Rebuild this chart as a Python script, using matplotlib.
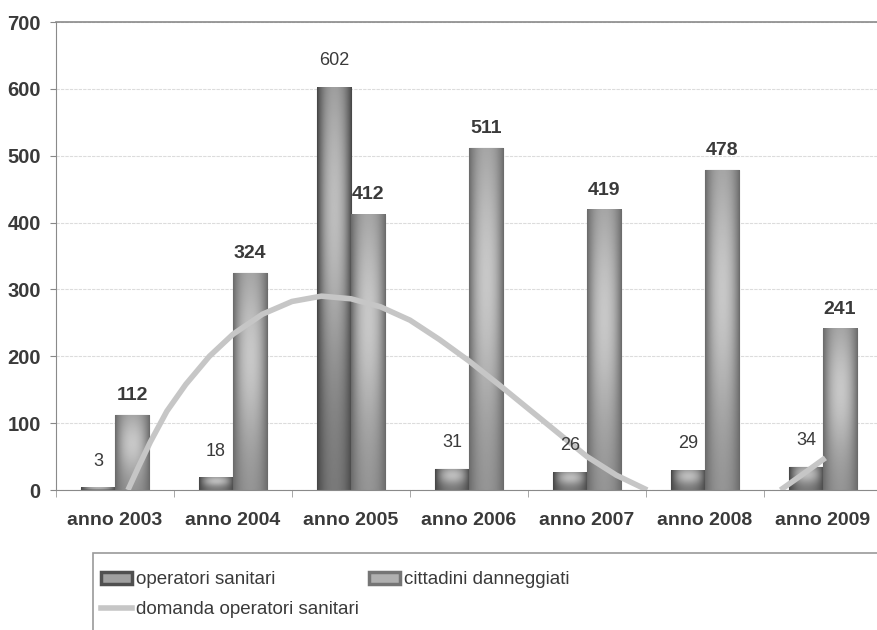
import numpy as np
import matplotlib
matplotlib.use("Agg")
import matplotlib.pyplot as plt
from matplotlib.patches import Rectangle
from matplotlib.lines import Line2D

# dati
anni = ["anno 2003", "anno 2004", "anno 2005", "anno 2006", "anno 2007", "anno 2008", "anno 2009"]
operatori = [3, 18, 602, 31, 26, 29, 34]
cittadini = [112, 324, 412, 511, 419, 478, 241]

# linea "domanda operatori sanitari" (due tratti)
dom_x1 = [0.11, 0.20, 0.30, 0.44, 0.60, 0.80, 1.00, 1.25, 1.50, 1.75, 2.00, 2.25, 2.50, 2.75, 3.00, 3.25, 3.50, 3.75, 4.00, 4.25, 4.51]
dom_y1 = [0, 35, 72, 118, 158, 200, 233, 263, 282, 290, 286, 274, 254, 225, 193, 158, 122, 86, 50, 22, 0]
dom_x2 = [5.64, 5.80, 6.02]
dom_y2 = [0, 20, 48]

testo = "#3a3a3a"
plt.rcParams["font.family"] = ["Liberation Sans", "DejaVu Sans"]

fig = plt.figure(figsize=(8.77, 6.30), dpi=100)
ax = fig.add_axes([56 / 877, 140 / 630, 826 / 877, 468 / 630])

x = np.arange(len(anni))
w = 0.29


def sfuma(bar, scuro, chiaro, vc):
    x0, y0 = bar.get_xy()
    bw, bh = bar.get_width(), bar.get_height()
    u = np.linspace(-1, 1, 40)
    v = np.linspace(0, 1, 120)
    U, V = np.meshgrid(u, v)
    oriz = 1 - np.abs(U) ** 2.2
    vert = np.exp(-((V - vc) / 0.4) ** 2)
    t = oriz * (0.4 + 0.6 * vert)
    img = scuro + (chiaro - scuro) * t
    ax.imshow(img, extent=[x0, x0 + bw, y0, y0 + bh], origin="lower", cmap="gray",
              vmin=0, vmax=1, aspect="auto", interpolation="bilinear",
              clip_path=bar, zorder=2)


b1 = ax.bar(x - w / 2, operatori, w, color="#555555", edgecolor="#4a4a4a", linewidth=0.8, zorder=2)
b2 = ax.bar(x + w / 2, cittadini, w, color="#777777", edgecolor="#666666", linewidth=0.8, zorder=2)
for b in b1:
    sfuma(b, 0.28, 0.74, 0.7)
for b in b2:
    sfuma(b, 0.42, 0.78, 0.62)

ax.plot(dom_x1, dom_y1, color="#c6c6c6", lw=4, solid_capstyle="butt", zorder=3)
ax.plot(dom_x2, dom_y2, color="#c6c6c6", lw=4, solid_capstyle="butt", zorder=3)

for xi, val in zip(x, operatori):
    ax.annotate(str(val), (xi - w / 2, val), xytext=(0, 16), textcoords="offset points",
                ha="center", va="baseline", fontsize=13, color=testo)
for xi, val in zip(x, cittadini):
    ax.annotate(str(val), (xi + w / 2, val), xytext=(0, 11), textcoords="offset points",
                ha="center", va="baseline", fontsize=14, fontweight="bold", color=testo)

ax.set_xlim(-0.5, 6.5)
ax.set_ylim(0, 700)
ax.set_yticks(range(0, 701, 100))
ax.set_xticks(x)
ax.set_xticklabels(anni, fontsize=14, fontweight="bold", color=testo)
ax.set_xticks(np.arange(-0.5, 7, 1), minor=True)
ax.tick_params(axis="x", which="major", length=0, pad=16)
ax.tick_params(axis="x", which="minor", length=5, color="#999999")
ax.tick_params(axis="y", length=4, color="#888888", pad=7, labelsize=14.5, labelcolor=testo)
for lab in ax.get_yticklabels():
    lab.set_fontweight("bold")

ax.yaxis.grid(True, color="#dcdcdc", lw=0.8, ls=(0, (3, 1)))
ax.set_axisbelow(True)
ax.spines["right"].set_visible(False)
ax.spines["top"].set_color("#8a8a8a")
ax.spines["left"].set_color("#8a8a8a")
ax.spines["bottom"].set_color("#8a8a8a")
ax.spines["top"].set_linewidth(1.2)

# legenda
fig.patches.append(Rectangle((93 / 877, -0.1), 1.0, 0.1 + 77 / 630, transform=fig.transFigure,
                             facecolor="white", edgecolor="#9a9a9a", lw=1.2, zorder=0))
h_op = Rectangle((0, 0), 1, 1, facecolor="#a0a0a0", edgecolor="#505050", lw=2.5)
h_ci = Rectangle((0, 0), 1, 1, facecolor="#b0b0b0", edgecolor="#757575", lw=2.5)
h_dom = Line2D([], [], color="#c6c6c6", lw=4)
fig.legend([h_op, h_dom, h_ci],
           ["operatori sanitari", "domanda operatori sanitari", "cittadini danneggiati"],
           ncol=2, loc="upper left", bbox_to_anchor=(92 / 877, 1 - 562 / 630),
           frameon=False, borderpad=0, handlelength=1.65, handleheight=0.65,
           handletextpad=0.22, columnspacing=0.5, labelspacing=0.7,
           prop={"size": 13.5}, labelcolor=testo)

fig.savefig("out.png", dpi=100)
